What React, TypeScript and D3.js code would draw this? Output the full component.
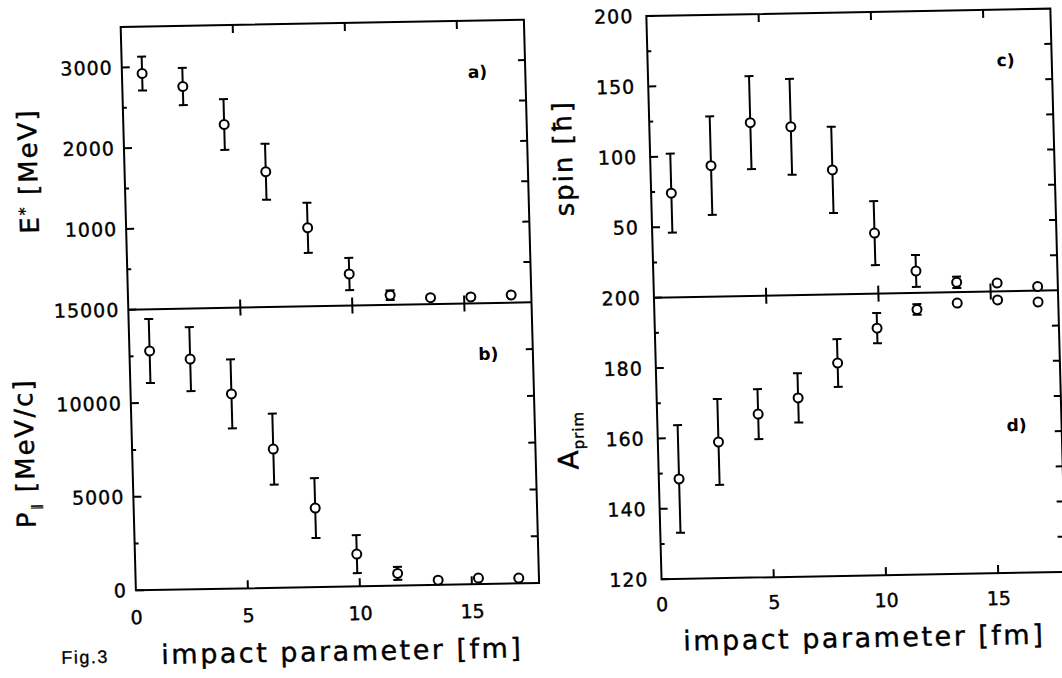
import React from 'react';
import * as d3 from 'd3';

// ---------------- data ----------------
const impactParameter = [0.9, 2.7, 4.5, 6.3, 8.1, 9.9, 11.7, 13.5, 15.3, 17.1];
const excitationEnergy = [2920, 2750, 2270, 1676, 973, 392, 120, 80, 80, 95];
const excitationErr = [210, 230, 315, 347, 310, 200, 60, 0, 0, 0];
const momentum = [12770, 12300, 10400, 7410, 4220, 1720, 650, 250, 320, 280];
const momentumErr = [1710, 1710, 1845, 1900, 1600, 1015, 350, 0, 0, 0];
const spinValues = [74, 93, 123, 119.5, 88.4, 43, 15.6, 7, 6, 3];
const spinErr = [28, 35, 33, 34, 30.6, 22.7, 11.3, 4, 0, 0];
const aPrimValues = [148.4, 158.7, 166.4, 170.8, 180.5, 190.2, 195.3, 196.9, 197.6, 196.8];
const aPrimErr = [15.3, 12.2, 7.1, 7, 6.8, 4.3, 1.5, 0, 0, 0];

const xTicks = [5, 10, 15];
const xTickLabels = [0, 5, 10, 15];

const eLabels = [1000, 2000, 3000];
const eMinor = [500, 1500, 2500];
const eRight = [500, 1000, 1500, 2000, 2500, 3000];

const pLabels = [0, 5000, 10000, 15000];
const pMinor = [2500, 7500, 12500];
const pRight = [2500, 5000, 7500, 10000, 12500];

const sLabels = [50, 100, 150, 200];
const sMinor = [25, 75, 125, 175];
const sRight = [25, 50, 75, 100, 125, 150, 175];

const aLabels = [120, 140, 160, 180, 200];
const aMinor = [130, 150, 170, 190];
const aRight = [130, 140, 150, 160, 170, 180, 190];

// ---------------- layout ----------------
const W = 1062;
const H = 678;
const LEFT = { x0: 129.3, x1: 532.5, top: 19.7, mid: 302.3, bot: 583 };
const RIGHT = { x0: 655, x1: 1059, top: 18.3, mid: 300, bot: 581.5 };
// the scanned page is slightly skewed
const SKEW_A = 0.027;
const SKEW_B = -0.0183;
const SKEW_CX = 531;
const SKEW_CY = 339;

const tickFont = "'DejaVu Sans', sans-serif";

type Col = typeof LEFT;

function Frame({ c, xs }: { c: Col; xs: d3.ScaleLinear<number, number> }) {
  return (
    <g stroke="#000" strokeWidth={2} fill="none">
      <rect x={c.x0} y={c.top} width={c.x1 - c.x0} height={c.bot - c.top} />
      <line x1={c.x0} x2={c.x1} y1={c.mid} y2={c.mid} />
      {xTicks.map((t) => (
        <g key={t}>
          <line x1={xs(t)} x2={xs(t)} y1={c.top} y2={c.top + 8} />
          <line x1={xs(t)} x2={xs(t)} y1={c.mid - 8} y2={c.mid + 8} />
          <line x1={xs(t)} x2={xs(t)} y1={c.bot} y2={c.bot - 8} />
        </g>
      ))}
    </g>
  );
}

function YAxis({
  c,
  ys,
  labels,
  minor,
  right,
  labelDx,
}: {
  c: Col;
  ys: d3.ScaleLinear<number, number>;
  labels: number[];
  minor: number[];
  right: number[];
  labelDx: number;
}) {
  return (
    <g>
      <g stroke="#000" strokeWidth={2}>
        {labels.map((t) => (
          <line key={'M' + t} x1={c.x0} x2={c.x0 + 8} y1={ys(t)} y2={ys(t)} />
        ))}
        {minor.map((t) => (
          <line key={'m' + t} x1={c.x0} x2={c.x0 + 4} y1={ys(t)} y2={ys(t)} />
        ))}
        {right.map((t) => (
          <line key={'r' + t} x1={c.x1} x2={c.x1 - 7} y1={ys(t)} y2={ys(t)} />
        ))}
      </g>
      <g
        fontFamily={tickFont}
        fontSize={19}
        textAnchor="end"
        fill="#000"
        stroke="#000"
        strokeWidth={0.4}
        letterSpacing={1}
      >
        {labels.map((t) => (
          <text key={'l' + t} x={c.x0 - labelDx} y={ys(t)} dy="0.36em">
            {t}
          </text>
        ))}
      </g>
    </g>
  );
}

function Points({
  xs,
  ys,
  vals,
  errs,
}: {
  xs: d3.ScaleLinear<number, number>;
  ys: d3.ScaleLinear<number, number>;
  vals: number[];
  errs: number[];
}) {
  const r = 4.5;
  return (
    <g stroke="#000" strokeWidth={2}>
      {vals.map((v, i) => {
        const x = xs(impactParameter[i]);
        const y = ys(v);
        const e = errs[i];
        const yt = ys(v + e);
        const yb = ys(v - e);
        return (
          <g key={i}>
            {e > 0 && (
              <>
                <line x1={x} x2={x} y1={yt} y2={y - r} />
                <line x1={x} x2={x} y1={y + r} y2={yb} />
                <line x1={x - 4.5} x2={x + 4.5} y1={yt} y2={yt} />
                <line x1={x - 4.5} x2={x + 4.5} y1={yb} y2={yb} />
              </>
            )}
            <circle cx={x} cy={y} r={r} fill="#fff" />
          </g>
        );
      })}
    </g>
  );
}

export default function App() {
  const xL = d3.scaleLinear().domain([0, 18]).range([LEFT.x0, LEFT.x1]);
  const xR = d3.scaleLinear().domain([0, 18]).range([RIGHT.x0, RIGHT.x1]);
  const yE = d3.scaleLinear().domain([0, 3500]).range([LEFT.mid, LEFT.top]);
  const yP = d3.scaleLinear().domain([0, 15000]).range([LEFT.bot, LEFT.mid]);
  const yS = d3.scaleLinear().domain([0, 200]).range([RIGHT.mid, RIGHT.top]);
  const yA = d3.scaleLinear().domain([120, 200]).range([RIGHT.bot, RIGHT.mid]);

  const titleFont = "'DejaVu Sans', sans-serif";
  const skew = `matrix(1, ${SKEW_B}, ${SKEW_A}, 1, ${-SKEW_A * SKEW_CY}, ${-SKEW_B * SKEW_CX})`;

  return (
    <svg
      width={W}
      height={H}
      viewBox={`0 0 ${W} ${H}`}
      style={{ position: 'absolute', left: 0, top: 0, background: '#fff' }}
    >
      <rect x={0} y={0} width={W} height={H} fill="#fff" />
      <g transform={skew}>
        {/* frames */}
        <Frame c={LEFT} xs={xL} />
        <Frame c={RIGHT} xs={xR} />

        {/* y axes */}
        <YAxis c={LEFT} ys={yE} labels={eLabels} minor={eMinor} right={eRight} labelDx={9} />
        <YAxis c={LEFT} ys={yP} labels={pLabels} minor={pMinor} right={pRight} labelDx={9} />
        <YAxis c={RIGHT} ys={yS} labels={sLabels} minor={sMinor} right={sRight} labelDx={13} />
        <YAxis c={RIGHT} ys={yA} labels={aLabels} minor={aMinor} right={aRight} labelDx={13} />

        {/* x tick labels */}
        <g
          fontFamily={tickFont}
          fontSize={19}
          textAnchor="middle"
          fill="#000"
          stroke="#000"
          strokeWidth={0.4}
        >
          {xTickLabels.map((t) => (
            <text key={'xl' + t} x={xL(t)} y={LEFT.bot + 27} dy="0.36em">
              {t}
            </text>
          ))}
          {xTickLabels.map((t) => (
            <text key={'xr' + t} x={xR(t)} y={RIGHT.bot + 25} dy="0.36em">
              {t}
            </text>
          ))}
        </g>

        {/* data */}
        <Points xs={xL} ys={yE} vals={excitationEnergy} errs={excitationErr} />
        <Points xs={xL} ys={yP} vals={momentum} errs={momentumErr} />
        <Points xs={xR} ys={yS} vals={spinValues} errs={spinErr} />
        <Points xs={xR} ys={yA} vals={aPrimValues} errs={aPrimErr} />

        {/* panel labels */}
        <g fontFamily={titleFont} fontSize={17} fontWeight="bold" fill="#000">
          <text x={475} y={77}>a)</text>
          <text x={478} y={359}>b)</text>
          <text x={1004} y={75}>c)</text>
          <text x={1004} y={440}>d)</text>
        </g>

        {/* axis titles */}
        <g fontFamily={titleFont} fontSize={27} fill="#000" stroke="#000" strokeWidth={0.4} letterSpacing={2.5}>
          <text x={334} y={657} textAnchor="middle">impact parameter [fm]</text>
          <text x={856} y={653} textAnchor="middle">impact parameter [fm]</text>
          <text transform="translate(42,162) rotate(-90)" textAnchor="middle" fontSize={26} letterSpacing={2}>
            E<tspan dy={-8} fontSize={16}>*</tspan>
            <tspan dy={8}> [MeV]</tspan>
          </text>
          <text transform="translate(31,444) rotate(-90)" textAnchor="middle" fontSize={26} letterSpacing={2}>
            P<tspan dy={5} fontSize={12}>∥</tspan>
            <tspan dy={-5}> [MeV/c]</tspan>
          </text>
          <text transform="translate(577,159) rotate(-90)" textAnchor="middle" fontSize={26} letterSpacing={2}>
            spin [ħ]
          </text>
          <text transform="translate(575,441) rotate(-90)" textAnchor="middle" fontSize={28} letterSpacing={1}>
            A<tspan dy={6} fontSize={15}>prim</tspan>
          </text>
        </g>

        <text
          x={53}
          y={655}
          fontFamily="'Liberation Sans', sans-serif"
          fontSize={18}
          letterSpacing={1.5}
          fill="#000"
          stroke="#000"
          strokeWidth={0.3}
        >
          Fig.3
        </text>
      </g>
    </svg>
  );
}
